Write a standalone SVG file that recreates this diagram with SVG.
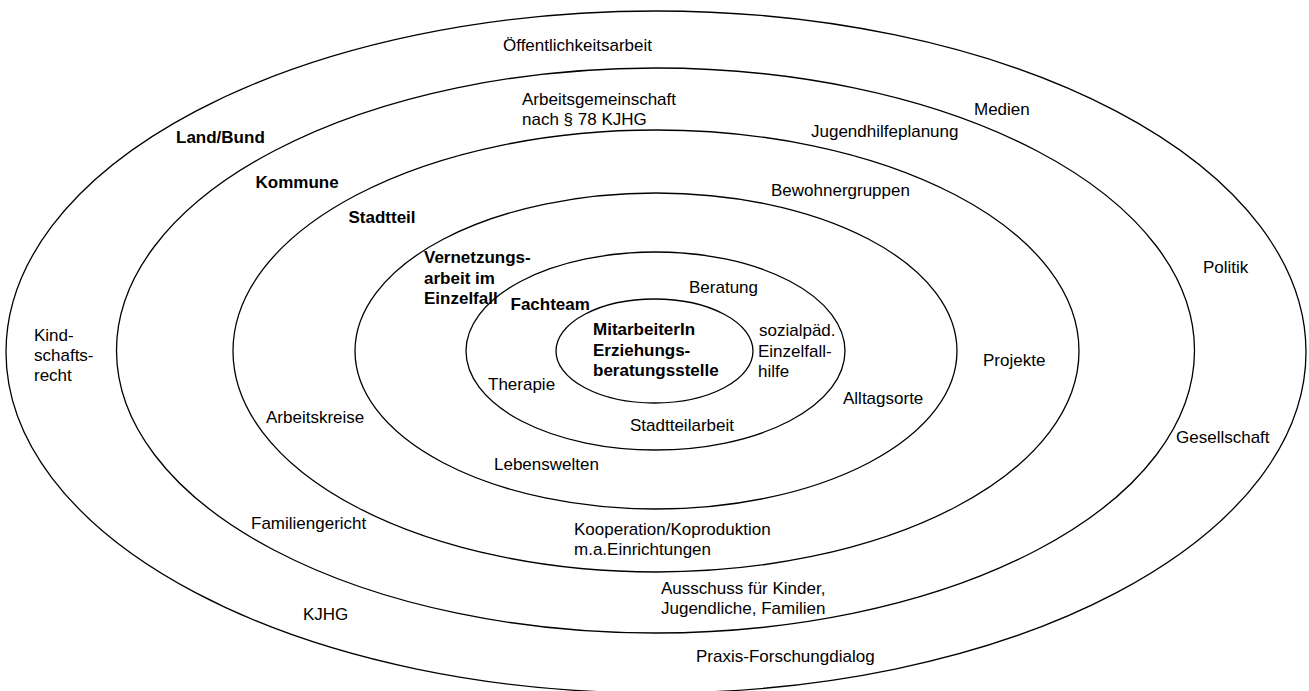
<svg xmlns="http://www.w3.org/2000/svg" width="1309" height="691" viewBox="0 0 1309 691">
<style>
.ring{fill:none;stroke:#000;stroke-width:1.3}
text{font-family:"Liberation Sans",Arial,sans-serif;font-size:17px;fill:#000}
.b{font-weight:bold}
</style>
<rect x="0" y="0" width="1309" height="691" fill="#fff"/>
<g id="rings">
<ellipse id="ring-land-bund" class="ring" cx="656" cy="352" rx="650" ry="341"/>
<ellipse id="ring-kommune" class="ring" cx="655.5" cy="350.5" rx="539" ry="282.5"/>
<ellipse id="ring-stadtteil" class="ring" cx="656" cy="351" rx="423" ry="221"/>
<ellipse id="ring-vernetzung" class="ring" cx="656" cy="351" rx="301" ry="158"/>
<ellipse id="ring-fachteam" class="ring" cx="655.5" cy="351" rx="189.5" ry="99"/>
<ellipse id="ring-center" class="ring" cx="654.5" cy="351" rx="98.5" ry="52"/>
</g>
<g id="labels-outer">
<text x="503" y="51">Öffentlichkeitsarbeit</text>
<text x="974" y="115">Medien</text>
<text x="1203" y="273">Politik</text>
<text x="1176" y="443">Gesellschaft</text>
<text x="696" y="662">Praxis-Forschungdialog</text>
<text x="303" y="620">KJHG</text>
<text x="34" y="341"><tspan x="34">Kind-</tspan><tspan x="34" dy="20">schafts-</tspan><tspan x="34" dy="20">recht</tspan></text>
<text class="b" x="176" y="143">Land/Bund</text>
</g>
<g id="labels-kommune">
<text x="522" y="105">Arbeitsgemeinschaft</text>
<text x="522" y="125">nach § 78 KJHG</text>
<text x="811" y="137">Jugendhilfeplanung</text>
<text x="251" y="529">Familiengericht</text>
<text x="661" y="594">Ausschuss für Kinder,</text>
<text x="661" y="614">Jugendliche, Familien</text>
<text class="b" x="255.5" y="188">Kommune</text>
</g>
<g id="labels-stadtteil">
<text x="771" y="196">Bewohnergruppen</text>
<text x="983" y="366">Projekte</text>
<text x="266" y="423">Arbeitskreise</text>
<text x="574" y="535">Kooperation/Koproduktion</text>
<text x="574" y="555">m.a.Einrichtungen</text>
<text class="b" x="348.5" y="223">Stadtteil</text>
</g>
<g id="labels-vernetzung">
<text class="b" x="424" y="263">Vernetzungs-</text>
<text class="b" x="424" y="284">arbeit im</text>
<text class="b" x="424" y="304">Einzelfall</text>
<text x="843" y="404">Alltagsorte</text>
<text x="494" y="470">Lebenswelten</text>
</g>
<g id="labels-fachteam">
<text class="b" x="510.5" y="310">Fachteam</text>
<text x="689" y="293">Beratung</text>
<text x="759" y="336">sozialpäd.</text>
<text x="758" y="357">Einzelfall-</text>
<text x="758" y="377">hilfe</text>
<text x="488" y="390">Therapie</text>
<text x="630" y="431">Stadtteilarbeit</text>
</g>
<g id="node-center">
<text class="b" x="593" y="335">MitarbeiterIn</text>
<text class="b" x="593" y="356">Erziehungs-</text>
<text class="b" x="593" y="376">beratungsstelle</text>
</g>
</svg>
